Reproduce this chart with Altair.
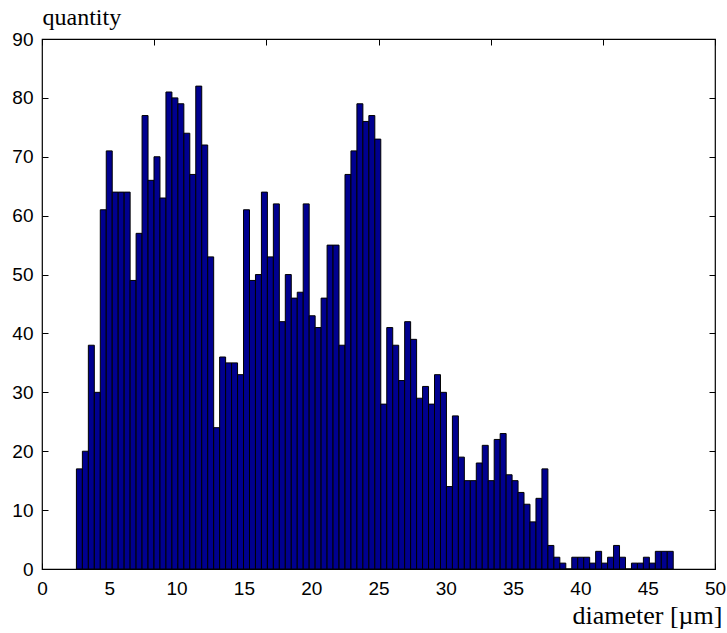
import altair as alt
import numpy as np
import pandas as pd

# histogram counts (100 bins)
counts = [17, 20, 38, 30, 61, 71, 64, 64, 64, 49, 57, 77, 66, 70, 63, 81, 80, 79, 74, 67,
          82, 72, 53, 24, 36, 35, 35, 33, 61, 49, 50, 64, 53, 62, 42, 50, 46, 47, 62, 43,
          41, 46, 55, 55, 38, 67, 71, 79, 76, 77, 73, 28, 41, 38, 32, 42, 39, 29, 31, 28,
          33, 30, 14, 26, 19, 15, 15, 18, 21, 15, 22, 23, 16, 15, 13, 11, 8, 12, 17, 4,
          2, 1, 0, 2, 2, 2, 1, 3, 1, 2, 4, 2, 0, 1, 1, 2, 1, 3, 3, 3]
bin_start = 2.557
bin_width = 0.4434
x_ticks = [0, 5, 10, 15, 20, 25, 30, 35, 40, 45, 50]
y_ticks = [0, 10, 20, 30, 40, 50, 60, 70, 80, 90]
top_ticks = [50 * k / 6 for k in range(7)]

lo = bin_start + bin_width * np.arange(len(counts))
df = pd.DataFrame({"lo": lo, "hi": lo + bin_width, "count": counts,
                   "base": np.zeros(len(counts))})

W, H = 673, 530
TICK = 6
xs = alt.Scale(domain=[0, 50], nice=False, zero=False)
ys = alt.Scale(domain=[0, 90], nice=False)

label_font = "Liberation Sans"
title_font = "Liberation Serif"

bars = alt.Chart(df).mark_bar(color="#00008f", stroke="black", strokeWidth=1).encode(
    x=alt.X("lo:Q", scale=xs, axis=alt.Axis(
        orient="bottom", values=x_ticks, tickSize=TICK, offset=-TICK, domain=False,
        grid=False, labelFont=label_font, labelFontSize=19, labelPadding=10,
        labelColor="black", tickColor="black", labelFlush=False,
        title="diameter [µm]", titleFont=title_font, titleFontSize=26,
        titleFontWeight="normal", titleColor="black", titleAlign="right",
        titleBaseline="alphabetic", titleX=680, titleY=60)),
    x2="hi:Q",
    y=alt.Y("count:Q", scale=ys, axis=alt.Axis(
        orient="left", values=y_ticks, tickSize=TICK, offset=-TICK, domain=False,
        grid=False, labelFont=label_font, labelFontSize=19, labelPadding=9,
        labelColor="black", tickColor="black", labelFlush=False,
        title="quantity", titleFont=title_font, titleFontSize=24,
        titleFontWeight="normal", titleColor="black", titleAngle=0,
        titleAlign="left", titleBaseline="alphabetic", titleX=-6, titleY=-15)),
    y2="base:Q",
)

ghost = alt.Chart(df).mark_bar(opacity=0).encode(
    x=alt.X("lo:Q", scale=xs, axis=alt.Axis(
        orient="top", values=top_ticks, tickSize=TICK, offset=-TICK, domain=False,
        grid=False, labels=False, title=None, tickColor="black")),
    x2="hi:Q",
    y=alt.Y("count:Q", scale=ys, axis=alt.Axis(
        orient="right", values=y_ticks, tickSize=TICK, offset=-TICK, domain=False,
        grid=False, labels=False, title=None, tickColor="black")),
    y2="base:Q",
)

chart = alt.layer(bars, ghost).resolve_scale(x="independent", y="independent").properties(
    width=W, height=H,
    padding={"left": 42, "top": 39, "right": 12, "bottom": 64},
    autosize=alt.AutoSizeParams(type="none"),
    background="white",
).configure_view(stroke="black", strokeWidth=1.2)

chart.save("out.html", embed_options={"renderer": "svg", "actions": False})
